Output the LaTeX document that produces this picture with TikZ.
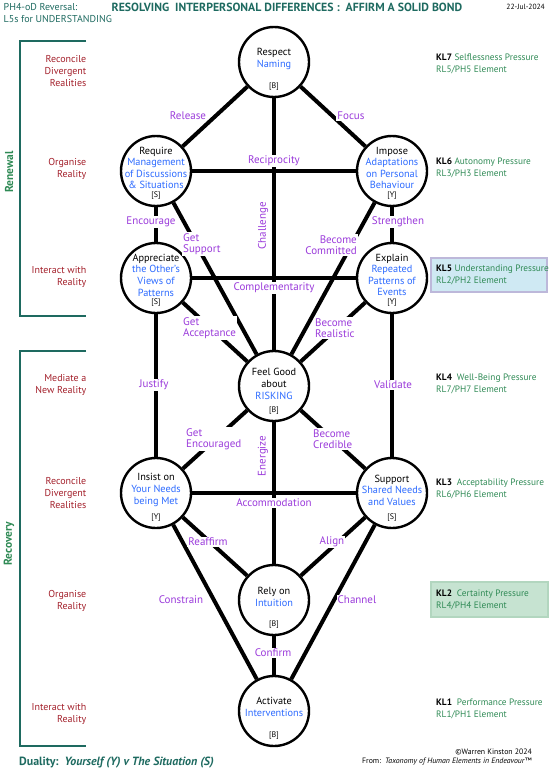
\documentclass[tikz,border=0pt]{standalone}
\usepackage{fontspec}
\setmainfont{PT Sans}
\usepackage{tikz}

\definecolor{headteal}{HTML}{1E6A60}
\definecolor{kidgreen}{HTML}{2F8A55}
\definecolor{realred}{HTML}{A3202B}
\definecolor{nameblue}{HTML}{2D6BFF}
\definecolor{verbpurple}{HTML}{9B3BDB}
\definecolor{klblue}{HTML}{CFE9F3}
\definecolor{klblueline}{HTML}{BDB8DA}
\definecolor{klgreen}{HTML}{C6E3D1}
\definecolor{klgreenline}{HTML}{B2D6BF}

\newcommand{\nm}[1]{\textcolor{nameblue}{#1}}
\newcommand{\kl}[1]{\textcolor{black}{\textbf{#1}}}

\tikzset{
  ring/.style = {circle, draw, line width=2.4pt, fill=white, minimum size=70pt, inner sep=0pt},
  ringtext/.style = {align=center, inner sep=0pt, font=\fontsize{10.3}{11.6}\selectfont},
  tag/.style = {inner sep=0pt, font=\fontsize{8}{9}\selectfont},
  link/.style = {line width=4pt},
  verb/.style = {fill=white, inner sep=1pt, align=left, text=verbpurple, font=\fontsize{11}{11.4}\selectfont},
  realm/.style = {anchor=east, align=right, inner sep=0pt, text=realred, font=\fontsize{10}{11.6}\selectfont},
  klevel/.style = {anchor=west, align=left, inner sep=0pt, text=kidgreen, font=\fontsize{9.3}{11.6}\selectfont},
  phase/.style = {rotate=90, text=kidgreen, font=\fontsize{11.5}{12}\selectfont\bfseries},
  bracket/.style = {draw=headteal, line width=2.5pt},
}

\begin{document}
\begin{tikzpicture}[x=1pt, y=-1pt]
\useasboundingbox (0, 0) rectangle (550, 773);
%\draw[very thin, color = gray] (0, 0) grid[step=50] (550, 773);

% header
\node[anchor=west, align=left, inner sep=0pt, text=headteal, font=\fontsize{10}{12.5}\selectfont] (phasename) at (3.5, 13) {PH4-oD Reversal:\\L5s for UNDERSTANDING};
\node[text=headteal, font=\fontsize{11.8}{12}\selectfont\bfseries] (title) at (287, 7) {RESOLVING\ \ INTERPERSONAL DIFFERENCES\ :\ \ AFFIRM A SOLID BOND};
\node[anchor=east, inner sep=0pt, font=\fontsize{7.5}{9}\selectfont] (date) at (545, 7) {22-Jul-2024};

% brackets
\draw[bracket] (86, 41) -- (20, 41) -- (20, 316) -- (86, 316);
\draw[bracket] (86, 351) -- (20, 351) -- (20, 746) -- (86, 746);
\node[phase] (renewal) at (9, 172) {Renewal};
\node[phase] (recovery) at (9, 544) {Recovery};

% realities
\node[realm] (real7) at (86.5, 71) {Reconcile\\Divergent\\Realities};
\node[realm] (real6) at (86.5, 169) {Organise\\Reality};
\node[realm] (real5) at (86.5, 277) {Interact with\\Reality};
\node[realm] (real4) at (86.5, 385) {Mediate a\\New Reality};
\node[realm] (real3) at (86.5, 493) {Reconcile\\Divergent\\Realities};
\node[realm] (real2) at (86.5, 601) {Organise\\Reality};
\node[realm] (real1) at (86.5, 714) {Interact with\\Reality};

% circles
\node[ring] (respect) at (274, 62) {};
\node[ring] (require) at (156, 171) {};
\node[ring] (impose) at (392, 171) {};
\node[ring] (appreciate) at (156, 278) {};
\node[ring] (explain) at (392, 278) {};
\node[ring] (feelgood) at (274, 386) {};
\node[ring] (insist) at (156, 493) {};
\node[ring] (support) at (392, 493) {};
\node[ring] (rely) at (274, 600) {};
\node[ring] (activate) at (274, 711) {};

\node[ringtext] (respect-t) at ([yshift=3pt]respect.center) {Respect\\\nm{Naming}};
\node[ringtext] (require-t) at ([yshift=3pt]require.center) {Require\\\nm{Management}\\\nm{of Discussions}\\\nm{\& Situations}};
\node[ringtext] (impose-t) at ([yshift=3pt]impose.center) {Impose\\\nm{Adaptations}\\\nm{on Personal}\\\nm{Behaviour}};
\node[ringtext] (appreciate-t) at ([yshift=3pt]appreciate.center) {Appreciate\\\nm{the Other's}\\\nm{Views of}\\\nm{Patterns}};
\node[ringtext] (explain-t) at ([yshift=3pt]explain.center) {Explain\\\nm{Repeated}\\\nm{Patterns of}\\\nm{Events}};
\node[ringtext] (feelgood-t) at ([yshift=2pt]feelgood.center) {Feel Good\\about\\[1pt]\nm{RISKING}};
\node[ringtext] (insist-t) at ([yshift=3pt]insist.center) {Insist on\\\nm{Your Needs}\\\nm{being Met}};
\node[ringtext] (support-t) at ([yshift=3pt]support.center) {Support\\\nm{Shared Needs}\\\nm{and Values}};
\node[ringtext] (rely-t) at ([yshift=3pt]rely.center) {Rely on\\\nm{Intuition}};
\node[ringtext] (activate-t) at ([yshift=4pt]activate.center) {Activate\\\nm{Interventions}};

\foreach \n/\t in {respect/B, require/S, impose/Y, appreciate/S, explain/Y,
  feelgood/B, insist/Y, support/S, rely/B, activate/B}
  \node[tag] (\n-b) at ([yshift=-25pt]\n.center) {[\t]};

% links
\draw[link] (respect) -- (require);
\draw[link] (respect) -- (impose);
\draw[link] (respect) -- (feelgood);
\draw[link] (require) -- (impose);
\draw[link] (require) -- (appreciate);
\draw[link] (impose) -- (explain);
\draw[link] (require) -- (feelgood);
\draw[link] (impose) -- (feelgood);
\draw[link] (appreciate) -- (explain);
\draw[link] (appreciate) -- (feelgood);
\draw[link] (explain) -- (feelgood);
\draw[link] (appreciate) -- (insist);
\draw[link] (explain) -- (support);
\draw[link] (feelgood) -- (insist);
\draw[link] (feelgood) -- (support);
\draw[link] (feelgood) -- (rely);
\draw[link] (insist) -- (support);
\draw[link] (insist) -- (rely);
\draw[link] (support) -- (rely);
\draw[link] (insist) -- (activate);
\draw[link] (support) -- (activate);
\draw[link] (rely) -- (activate);

% link labels
\node[verb] (release) at (188, 116) {Release};
\node[verb] (focus) at (351, 116) {Focus};
\node[verb] (reciprocity) at (274, 161) {Reciprocity};
\node[verb, rotate=90] (challenge) at (263, 226) {Challenge};
\node[verb] (encourage) at (151, 222) {Encourage};
\node[verb] (strengthen) at (398, 222) {Strengthen};
\node[verb, anchor=west] (getsupport) at (182, 244) {Get\\Support};
\node[verb, anchor=east, align=right] (committed) at (358, 245) {Become\\Committed};
\node[verb] (complementarity) at (274, 288) {Complementarity};
\node[verb, anchor=west] (acceptance) at (182, 328) {Get\\Acceptance};
\node[verb, anchor=west] (realistic) at (314, 328) {Become\\Realistic};
\node[verb] (justify) at (154, 385) {Justify};
\node[verb] (validate) at (393, 385) {Validate};
\node[verb, anchor=west] (encouraged) at (185, 439) {Get\\Encouraged};
\node[verb, rotate=90] (energize) at (263, 456) {Energize};
\node[verb, anchor=west] (credible) at (312, 439) {Become\\Credible};
\node[verb] (accommodation) at (274, 503) {Accommodation};
\node[verb] (reaffirm) at (208, 542) {Reaffirm};
\node[verb] (align) at (332, 542) {Align};
\node[verb] (constrain) at (181, 600) {Constrain};
\node[verb] (channel) at (357, 600) {Channel};
\node[verb] (confirm) at (273, 653) {Confirm};

% pressure levels
\filldraw[fill=klblue, draw=klblueline, line width=2pt] (431, 258) rectangle (547, 292);
\filldraw[fill=klgreen, draw=klgreenline, line width=1.5pt] (431, 582) rectangle (548, 617);
\node[klevel] (kl7) at (436, 64) {\kl{KL7} Selflessness Pressure\\RL5/PH5 Element};
\node[klevel] (kl6) at (436, 168) {\kl{KL6} Autonomy Pressure\\RL3/PH3 Element};
\node[klevel] (kl5) at (436, 275) {\kl{KL5} Understanding Pressure\\RL2/PH2 Element};
\node[klevel] (kl4) at (436, 384) {\kl{KL4}\ \ Well-Being Pressure\\RL7/PH7 Element};
\node[klevel] (kl3) at (436, 489) {\kl{KL3}\ \ Acceptability Pressure\\RL6/PH6 Element};
\node[klevel] (kl2) at (436, 600) {\kl{KL2}\ \ Certainty Pressure\\RL4/PH4 Element};
\node[klevel] (kl1) at (436, 709) {\kl{KL1}\ \ Performance Pressure\\RL1/PH1 Element};

% footer
\node[anchor=west, inner sep=0pt, text=headteal, font=\fontsize{11.9}{12}\selectfont\bfseries] (duality) at (19, 763) {Duality:\ \ \textit{Yourself (Y) v The Situation (S)}};
\node[anchor=east, align=right, inner sep=0pt, font=\fontsize{7.8}{9.5}\selectfont] (credit) at (532, 757) {©Warren Kinston 2024\\From:\ \ \textit{Taxonomy of Human Elements in Endeavour}™};
\end{tikzpicture}
\end{document}
